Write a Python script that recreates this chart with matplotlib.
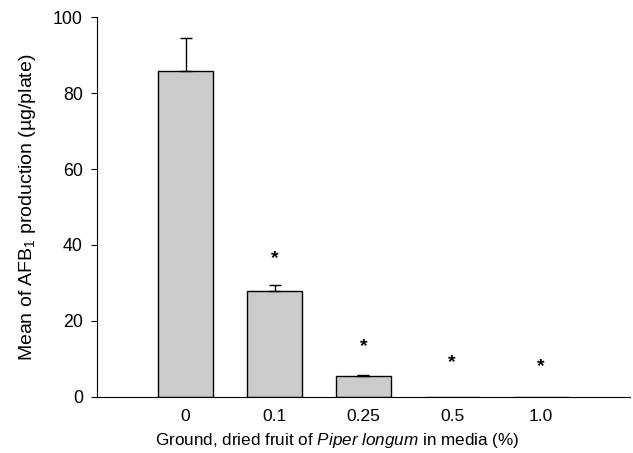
import matplotlib.pyplot as plt
import numpy as np

plt.rcParams['font.family'] = ['Liberation Sans', 'DejaVu Sans']
plt.rcParams['mathtext.fontset'] = 'custom'
plt.rcParams['mathtext.rm'] = 'Liberation Sans'
plt.rcParams['mathtext.it'] = 'Liberation Sans:italic'

# data
concentrations = ['0', '0.1', '0.25', '0.5', '1.0']
afb1_mean = [85.8, 28.0, 5.5, 0.0, 0.0]
afb1_err = [8.7, 1.5, 0.3, 0.0, 0.0]
star_y = [None, 36.5, 13.2, 9.0, 7.9]

fig = plt.figure(figsize=(6.33, 4.53), dpi=100)
ax = fig.add_axes([0.153, 0.124, 0.842, 0.838])

x = np.arange(len(concentrations))
ax.bar(x, afb1_mean, width=0.62, color='#cbcbcb', edgecolor='black', linewidth=1.0)
ax.errorbar(x[:3], afb1_mean[:3], yerr=[np.zeros(3), afb1_err[:3]],
            fmt='none', ecolor='black', elinewidth=1.0, capsize=4, capthick=1.0)

# significance markers
for xi, sy in zip(x, star_y):
    if sy is not None:
        ax.text(xi, sy, '*', ha='center', va='center', fontsize=14, fontweight='bold')

ax.set_xlim(-1, 5)
ax.set_ylim(0, 100)
ax.set_yticks([0, 20, 40, 60, 80, 100])
ax.set_xticks(x)
ax.set_xticklabels(concentrations)
ax.tick_params(axis='x', length=0, pad=9, labelsize=12.5)
ax.tick_params(axis='y', direction='out', length=4, labelsize=12.8, pad=6)

ax.spines['top'].set_visible(False)
ax.spines['right'].set_visible(False)

ax.set_ylabel(r'Mean of AFB$_1$ production (µg/plate)', fontsize=14, labelpad=11)
ax.set_xlabel(r'Ground, dried fruit of $\it{Piper\ longum}$ in media (%)', fontsize=12.3, labelpad=5)
ax.xaxis.label.set_x(0.452)

fig.savefig('out.png', dpi=100)
